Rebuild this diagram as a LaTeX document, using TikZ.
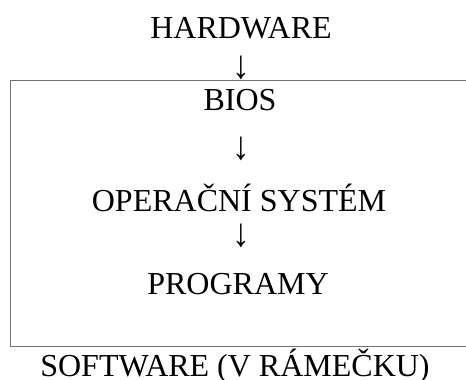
\documentclass[tikz,border=0pt]{standalone}
\usepackage{fontspec}
\setmainfont{Liberation Serif}
\begin{document}
\begin{tikzpicture}[x=1pt,y=-1pt,
  lbl/.style={font=\fontsize{32}{36}\selectfont, inner sep=0pt, anchor=base},
  arr/.style={font=\fontsize{32}{36}\selectfont, inner sep=0pt, anchor=base},
  frame/.style={draw=black!55, line width=1pt}]
\useasboundingbox (0,0) rectangle (466,380);
\draw[frame] (480,80) -- (10.5,80) -- (10.5,346) -- (480,346);
\node[lbl] (hw) at (241,38) {HARDWARE};
\node[arr] (a1) at (241,78) {\scalebox{1.1}[1.25]{↓}};
\node[lbl] (bios) at (240,110) {BIOS};
\node[arr] (a2) at (241,159) {\scalebox{1.1}[1.25]{↓}};
\node[lbl] (os) at (239,211) {OPERAČNÍ SYSTÉM};
\node[arr] (a3) at (241,246) {\scalebox{1.1}[1.25]{↓}};
\node[lbl] (prog) at (238,294) {PROGRAMY};
\node[lbl] (sw) at (235,376) {SOFTWARE (V RÁMEČKU)};
\end{tikzpicture}
\end{document}
